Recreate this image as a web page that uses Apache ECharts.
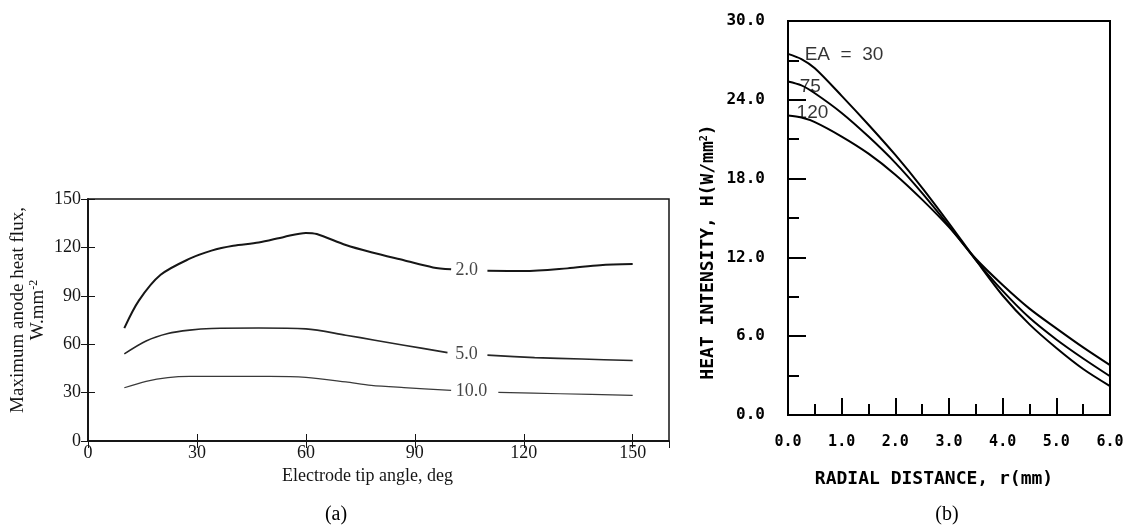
<!DOCTYPE html>
<html>
<head>
<meta charset="utf-8">
<script src="https://cdn.jsdelivr.net/npm/echarts@6/dist/echarts.min.js"></script>
<style>
html,body{margin:0;padding:0;background:#fff;}
#chart{width:1133px;height:532px;}
</style>
</head>
<body>
<div id="chart"></div>
<script>
// ---------- (a) Maximum anode heat flux vs electrode tip angle ----------
const angleTicks = [0, 30, 60, 90, 120, 150];
const fluxTicks = [0, 30, 60, 90, 120, 150];

const angle2a = [10, 14, 20, 28, 34, 40, 47, 54, 60, 63, 71, 78, 87, 95, 100];
const flux2a  = [70, 87, 103, 113, 118, 121, 123, 126.5, 129, 128.3, 121.5, 117, 112, 107.6, 106.4];
const angle2b = [110, 120, 132, 141, 150];
const flux2b  = [105.5, 105.3, 107, 109, 109.7];

const angle5a = [10, 16, 22, 28, 34, 47, 60, 71, 79, 87, 99];
const flux5a  = [54, 62, 66.6, 68.7, 69.7, 70, 69.5, 65.6, 62.5, 59.4, 54.8];
const angle5b = [110, 123, 136, 150];
const flux5b  = [53.2, 51.7, 50.8, 49.9];

const angle10a = [10, 16, 22, 28, 50, 60, 71, 78, 87, 100];
const flux10a  = [33, 37, 39.3, 40, 40, 39.4, 36.6, 34.5, 33.1, 31.4];
const angle10b = [113, 130, 150];
const flux10b  = [30.2, 29.3, 28.3];

const curveLabelsA = ['2.0', '5.0', '10.0'];
const curveLabelAngle = [104.3, 104.2, 105.6];
const curveLabelFlux = [106, 54, 31];

// ---------- (b) Heat intensity vs radial distance ----------
const radialTicks = [0, 1, 2, 3, 4, 5, 6];
const heatTicks = [0, 6, 12, 18, 24, 30];
const radial = [0, 0.25, 0.5, 1, 1.5, 2, 2.5, 3, 3.5, 4, 4.5, 5, 5.5, 6];
const heatEA30  = [27.5, 27.1, 26.4, 24.3, 22.1, 19.8, 17.3, 14.6, 11.8, 9.1, 6.9, 5.1, 3.5, 2.2];
const heatEA75  = [25.4, 25.1, 24.5, 23.0, 21.2, 19.2, 16.9, 14.4, 11.8, 9.45, 7.4, 5.75, 4.3, 2.95];
const heatEA120 = [22.8, 22.65, 22.3, 21.2, 19.9, 18.3, 16.4, 14.3, 11.9, 9.9, 8.1, 6.6, 5.15, 3.8];

const curveLabelsB = ['EA  =  30', '75', '120'];
const curveLabelR = [0.31, 0.22, 0.16];
const curveLabelH = [27.4, 25.0, 23.0];

function pairs(xs, ys) { return xs.map((x, i) => [x, ys[i]]); }

const serif = 'Liberation Serif';
const mono = 'DejaVu Sans Mono';
const inkA = '#151515';

const chart = echarts.init(document.getElementById('chart'), null, {renderer: 'canvas'});

function lineA(xs, ys, width, color) {
  return {
    type: 'line', xAxisIndex: 0, yAxisIndex: 0, data: pairs(xs, ys),
    smooth: 0.3, symbol: 'none', silent: true,
    lineStyle: {color: color, width: width}
  };
}
function lineB(ys) {
  return {
    type: 'line', xAxisIndex: 2, yAxisIndex: 2, data: pairs(radial, ys),
    smooth: 0.3, symbol: 'none', silent: true,
    lineStyle: {color: '#000', width: 2}
  };
}

const option = {
  animation: false,
  backgroundColor: '#ffffff',
  title: [
    {text: '(a)', left: 336, top: 505, textAlign: 'center', padding: 0,
     textStyle: {fontFamily: serif, fontSize: 20, fontWeight: 'normal', color: '#000'}},
    {text: '(b)', left: 947, top: 505, textAlign: 'center', padding: 0,
     textStyle: {fontFamily: serif, fontSize: 20, fontWeight: 'normal', color: '#000'}}
  ],
  grid: [
    {left: 88, top: 199, width: 581, height: 242, show: true, borderColor: inkA, borderWidth: 1.5,
     backgroundColor: 'transparent', containLabel: false, outerBoundsMode: 'none'},
    {left: 788, top: 21, width: 322, height: 394, show: true, borderColor: '#000', borderWidth: 2,
     backgroundColor: 'transparent', containLabel: false, outerBoundsMode: 'none'}
  ],
  xAxis: [
    {
      gridIndex: 0, type: 'value', min: angleTicks[0], max: 160, interval: 30,
      name: 'Electrode tip angle, deg', nameLocation: 'middle', nameGap: 26, nameMoveOverlap: false,
      nameTextStyle: {fontFamily: serif, fontSize: 18, color: inkA, padding: [0, 22, 0, 0]},
      axisLine: {show: true, lineStyle: {color: inkA, width: 1.5}},
      axisTick: {show: true, inside: true, length: 7, lineStyle: {color: inkA, width: 1}},
      axisLabel: {show: true, showMaxLabel: false, margin: 3, fontFamily: serif, fontSize: 18, color: inkA},
      splitLine: {show: false}
    },
    {
      gridIndex: 0, type: 'value', position: 'top', min: angleTicks[0], max: 160, interval: 30,
      axisLine: {show: true, lineStyle: {color: inkA, width: 1.5}},
      axisTick: {show: true, inside: true, length: 7, lineStyle: {color: inkA, width: 1}},
      axisLabel: {show: false}, splitLine: {show: false}
    },
    {
      gridIndex: 1, type: 'value', min: radialTicks[0], max: radialTicks[radialTicks.length - 1], interval: 1,
      name: 'RADIAL DISTANCE, r(mm)', nameLocation: 'middle', nameGap: 55, nameMoveOverlap: false,
      nameTextStyle: {fontFamily: mono, fontWeight: 'bold', fontSize: 18, color: '#000', padding: [0, 30, 0, 0]},
      axisLine: {show: true, lineStyle: {color: '#000', width: 2}},
      axisTick: {show: true, inside: true, length: 17, lineStyle: {color: '#000', width: 2}},
      minorTick: {show: true, splitNumber: 2, length: 11, lineStyle: {color: '#000', width: 2}},
      axisLabel: {show: true, margin: 20, fontFamily: mono, fontWeight: 'bold', fontSize: 15, color: '#000',
                  formatter: v => v.toFixed(1)},
      splitLine: {show: false}, minorSplitLine: {show: false}
    }
  ],
  yAxis: [
    {
      gridIndex: 0, type: 'value', min: fluxTicks[0], max: fluxTicks[fluxTicks.length - 1], interval: 30,
      name: 'Maximum anode heat flux,\n{n|W.mm}{s|-2}', nameLocation: 'middle', nameRotate: 90, nameGap: 40,
      nameMoveOverlap: false,
      nameTextStyle: {fontFamily: serif, fontSize: 19, color: inkA, lineHeight: 20, padding: [0, 0, 0, 20],
        rich: {
          n: {fontFamily: serif, fontSize: 19, color: inkA, lineHeight: 20},
          s: {fontFamily: serif, fontSize: 12, color: inkA, verticalAlign: 'top', lineHeight: 20}
        }},
      axisLine: {show: true, lineStyle: {color: inkA, width: 1.5}},
      axisTick: {show: true, inside: true, length: 7, lineStyle: {color: inkA, width: 1}},
      axisLabel: {show: true, margin: 7, fontFamily: serif, fontSize: 18, color: inkA},
      splitLine: {show: false}
    },
    {
      gridIndex: 0, type: 'value', position: 'right', min: fluxTicks[0], max: fluxTicks[fluxTicks.length - 1], interval: 30,
      axisLine: {show: true, lineStyle: {color: inkA, width: 1.5}},
      axisTick: {show: true, inside: true, length: 7, lineStyle: {color: inkA, width: 1}},
      axisLabel: {show: false}, splitLine: {show: false}
    },
    {
      gridIndex: 1, type: 'value', min: heatTicks[0], max: heatTicks[heatTicks.length - 1], interval: 6,
      name: 'HEAT INTENSITY, H(W/mm{s|2})', nameLocation: 'middle', nameRotate: 90, nameGap: 71,
      nameMoveOverlap: false,
      nameTextStyle: {fontFamily: mono, fontWeight: 'bold', fontSize: 18, color: '#000', padding: [0, 68, 0, 0],
        rich: {s: {fontFamily: mono, fontWeight: 'bold', fontSize: 10, color: '#000', verticalAlign: 'top', lineHeight: 18}}},
      axisLine: {show: true, lineStyle: {color: '#000', width: 2}},
      axisTick: {show: true, inside: true, length: 18, lineStyle: {color: '#000', width: 2}},
      minorTick: {show: true, splitNumber: 2, length: 11, lineStyle: {color: '#000', width: 2}},
      axisLabel: {show: true, margin: 23, fontFamily: mono, fontWeight: 'bold', fontSize: 16, color: '#000',
                  formatter: v => v.toFixed(1)},
      splitLine: {show: false}, minorSplitLine: {show: false}
    }
  ],
  series: [
    lineA(angle2a, flux2a, 2, '#161616'),
    lineA(angle2b, flux2b, 2, '#161616'),
    lineA(angle5a, flux5a, 1.6, '#262626'),
    lineA(angle5b, flux5b, 1.6, '#262626'),
    lineA(angle10a, flux10a, 1.2, '#3a3a3a'),
    lineA(angle10b, flux10b, 1.2, '#3a3a3a'),
    {
      type: 'scatter', xAxisIndex: 0, yAxisIndex: 0, symbolSize: 0, silent: true,
      data: curveLabelsA.map((t, i) => ({name: t, value: [curveLabelAngle[i], curveLabelFlux[i]]})),
      label: {show: true, position: 'inside', formatter: '{b}', fontFamily: serif, fontSize: 18, color: inkA}
    },
    lineB(heatEA30),
    lineB(heatEA75),
    lineB(heatEA120),
    {
      type: 'scatter', xAxisIndex: 2, yAxisIndex: 2, symbolSize: 0, silent: true,
      data: curveLabelsB.map((t, i) => ({name: t, value: [curveLabelR[i], curveLabelH[i]]})),
      label: {show: true, position: 'right', distance: 0, formatter: '{b}', fontFamily: 'Liberation Sans', fontSize: 19, color: '#000'}
    }
  ]
};
chart.setOption(option);
</script>
</body>
</html>
